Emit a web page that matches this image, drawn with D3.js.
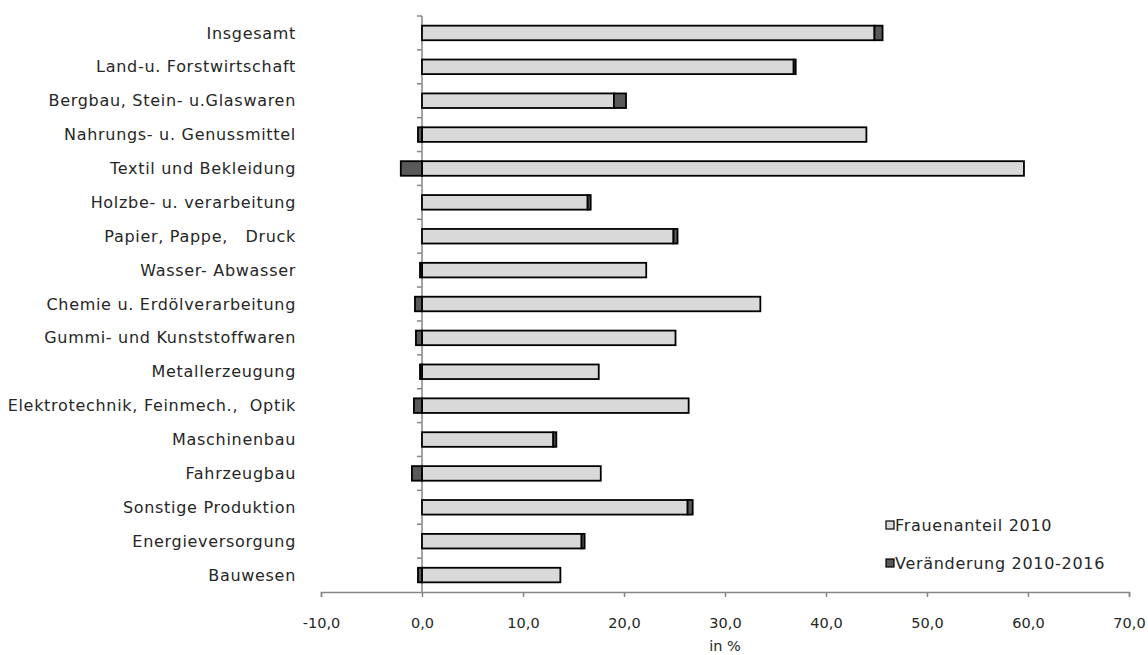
<!DOCTYPE html>
<html>
<head>
<meta charset="utf-8">
<script src="https://cdn.jsdelivr.net/npm/d3@7"></script>
<style>
  html, body { margin: 0; padding: 0; background: #fff; }
  svg { display: block; }
  text { font-family: "DejaVu Sans", sans-serif; fill: #262626; white-space: pre; }
</style>
</head>
<body>
<svg id="chart" width="1148" height="655"></svg>
<script>
const categories = [
  "Insgesamt",
  "Land-u. Forstwirtschaft",
  "Bergbau, Stein- u.Glaswaren",
  "Nahrungs- u. Genussmittel",
  "Textil und Bekleidung",
  "Holzbe- u. verarbeitung",
  "Papier, Pappe,   Druck",
  "Wasser- Abwasser",
  "Chemie u. Erdölverarbeitung",
  "Gummi- und Kunststoffwaren",
  "Metallerzeugung",
  "Elektrotechnik, Feinmech.,  Optik",
  "Maschinenbau",
  "Fahrzeugbau",
  "Sonstige Produktion",
  "Energieversorgung",
  "Bauwesen"
];
const frauenanteil2010 = [44.8, 36.8, 19.0, 44.0, 59.6, 16.4, 24.9, 22.2, 33.5, 25.1, 17.5, 26.4, 13.0, 17.7, 26.3, 15.8, 13.7];
const veraenderung = [0.8, 0.2, 1.2, -0.4, -2.1, 0.3, 0.4, -0.2, -0.7, -0.6, -0.2, -0.8, 0.3, -1.0, 0.5, 0.3, -0.4];
const seriesNames = ["Frauenanteil 2010", "Veränderung 2010-2016"];
const xTicks = [-10, 0, 10, 20, 30, 40, 50, 60, 70];
const xTitle = "in %";

const svg = d3.select("#chart");
const W = 1148, H = 655;
const m = { left: 321, right: W - 1129, top: 16, bottom: H - 592 };

const x = d3.scaleLinear().domain([-10, 70]).range([m.left, W - m.right]);
const y = d3.scaleBand().domain(categories).range([m.top, H - m.bottom]).paddingInner(0.57).paddingOuter(0.285);
const yBand = d3.scaleBand().domain(categories).range([m.top, H - m.bottom]);

const colLight = "#d9d9d9", colDark = "#595959", axisCol = "#868686";
const labelFont = 16, labelSpacing = 0.7;

const rows = categories.map((c, i) => ({ c, a: frauenanteil2010[i], d: veraenderung[i] }));

// x axis
const xAxis = svg.append("g").attr("transform", `translate(0,${H - m.bottom})`)
  .call(d3.axisBottom(x).tickValues(xTicks).tickSize(5).tickPadding(21)
    .tickFormat(d => d3.format(".1f")(d).replace(".", ",").replace("−", "-")));
xAxis.select(".domain").attr("stroke", axisCol).attr("stroke-width", 1.5);
xAxis.selectAll(".tick line").attr("stroke", axisCol).attr("stroke-width", 1.5);
xAxis.selectAll(".tick text").attr("font-size", 14.5).attr("fill", "#262626")
  .style("font-family", "'DejaVu Sans', sans-serif");

svg.append("text").attr("x", (x(-10) + x(70)) / 2).attr("y", 651)
  .attr("text-anchor", "middle").attr("font-size", 14.5).text(xTitle);

// y axis line at 0 with ticks at band boundaries
const yAxisG = svg.append("g");
yAxisG.append("line").attr("x1", x(0)).attr("x2", x(0))
  .attr("y1", m.top).attr("y2", H - m.bottom).attr("stroke", axisCol).attr("stroke-width", 1.5);
yAxisG.selectAll("line.tk").data(categories).join("line").attr("class", "tk")
  .attr("x1", x(0) - 5).attr("x2", x(0))
  .attr("y1", d => yBand(d)).attr("y2", d => yBand(d))
  .attr("stroke", axisCol).attr("stroke-width", 1.5);

// category labels
svg.append("g").selectAll("text").data(categories).join("text")
  .attr("x", 296).attr("y", d => yBand(d) + yBand.bandwidth() / 2)
  .attr("dy", "0.35em").attr("text-anchor", "end").attr("font-size", labelFont)
  .attr("letter-spacing", labelSpacing)
  .text(d => d);

// bars: light
const bh = y.bandwidth();
svg.append("g").selectAll("rect").data(rows).join("rect")
  .attr("x", d => x(0)).attr("y", d => y(d.c))
  .attr("width", d => x(d.a) - x(0)).attr("height", bh)
  .attr("fill", colLight).attr("stroke", "#000").attr("stroke-width", 1.8);

// bars: dark (change)
svg.append("g").selectAll("rect").data(rows).join("rect")
  .attr("x", d => d.d >= 0 ? x(d.a) : x(d.d)).attr("y", d => y(d.c))
  .attr("width", d => Math.abs(x(d.d) - x(0))).attr("height", bh)
  .attr("fill", colDark).attr("stroke", "#000").attr("stroke-width", 1.8);

// legend
const leg = svg.append("g");
seriesNames.forEach((s, i) => {
  const ly = 525 + i * 38;
  leg.append("rect").attr("x", 886).attr("y", ly - 4).attr("width", 8).attr("height", 8)
    .attr("fill", i === 0 ? colLight : colDark).attr("stroke", "#000").attr("stroke-width", 1.2);
  leg.append("text").attr("x", 895).attr("y", ly).attr("dy", "0.35em")
    .attr("font-size", labelFont).attr("letter-spacing", labelSpacing).text(s);
});
</script>
</body>
</html>
